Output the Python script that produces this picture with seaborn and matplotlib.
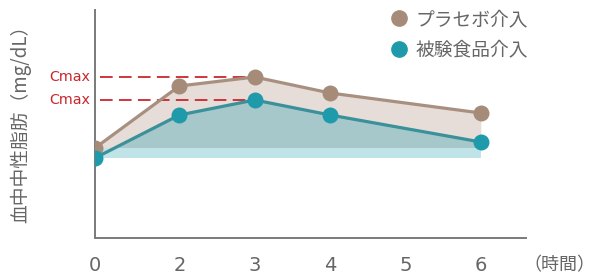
import matplotlib
matplotlib.use("Agg")
import matplotlib.pyplot as plt
from matplotlib.lines import Line2D
import seaborn as sns
import numpy as np
import pandas as pd

# ---- data ----
hours = [0, 2, 3, 4, 6]
placebo = [90, 152, 161, 145, 125]
test_food = [80, 123, 138, 123, 96]
tick_labels = [0, 2, 3, 4, 5, 6]
series_names = ["プラセボ介入", "被験食品介入"]
cmax_label = "Cmax"
y_label = "血中中性脂肪（mg/dL）"
x_unit = "（時間）"

# ---- style ----
C_PLA = "#a68b79"
C_PLA_LINE = "#a89080"
C_TEST = "#1f9aab"
C_TEST_LINE = "#3a9199"
C_BEIGE = "#e6ddd8"
C_OVER = "#a7c8cb"
C_BAND = "#bfe3e6"
C_RED = "#c9262c"
C_GREY = "#666666"
FIRST_GAP = 1.12  # the 0 -> 2 interval is drawn slightly wider than one unit

def pos(h):
    return h if h > 0 else 2 - FIRST_GAP

sns.set_theme(style="white")
plt.rcParams['font.family'] = ['Noto Sans CJK JP', 'DejaVu Sans']

fig = plt.figure(figsize=(5.96, 2.76), dpi=100)
ax = fig.add_axes([95/596, 38/276, (526-95)/596, (238-10)/276])

xp = np.array([pos(h) for h in hours])
pla = np.array(placebo, dtype=float)
tst = np.array(test_food, dtype=float)
df = pd.DataFrame({"x": np.concatenate([xp, xp]),
                   "y": np.concatenate([pla, tst]),
                   "group": [series_names[0]] * len(xp) + [series_names[1]] * len(xp)})

# fills
ax.fill_between(xp, pla, pla[0], color=C_BEIGE, lw=0, zorder=1)
ax.fill_between(xp, tst, pla[0], where=tst >= pla[0], interpolate=True,
                color=C_OVER, lw=0, zorder=2)
ax.fill_between(xp, tst[0], pla[0], color=C_BAND, lw=0, zorder=3)

# lines
sns.lineplot(data=df[df.group == series_names[0]], x="x", y="y", color=C_PLA_LINE,
             lw=2.3, marker="o", markersize=11.5, markerfacecolor=C_PLA,
             markeredgewidth=0, ax=ax, zorder=5, legend=False)
sns.lineplot(data=df[df.group == series_names[1]], x="x", y="y", color=C_TEST_LINE,
             lw=2.3, marker="o", markersize=11.5, markerfacecolor=C_TEST,
             markeredgewidth=0, ax=ax, zorder=6, legend=False)

ax.set_xlim(2 - FIRST_GAP, 6.6)
ax.set_ylim(0, 228)

# Cmax dashed lines
i_pla = int(np.argmax(pla))
i_tst = int(np.argmax(tst))
x0 = 2 - FIRST_GAP + 0.07
ax.plot([x0, xp[i_pla] - 0.05], [pla[i_pla]] * 2, color=C_RED, lw=1.3,
        dashes=(7, 3.5), zorder=4)
ax.plot([x0, xp[i_tst] - 0.05], [tst[i_tst]] * 2, color=C_RED, lw=1.3,
        dashes=(7, 3.5), zorder=4)
for v in (pla[i_pla], tst[i_tst]):
    ax.text(-0.012, v, cmax_label, transform=ax.get_yaxis_transform(),
            ha="right", va="center", color=C_RED, fontsize=10.3,
            family=['DejaVu Sans'])

# axes styling
for s in ("top", "right"):
    ax.spines[s].set_visible(False)
for s in ("left", "bottom"):
    ax.spines[s].set_color("#7a7a7a")
    ax.spines[s].set_linewidth(1.4)
ax.set_yticks([])
ax.set_xticks([pos(t) for t in tick_labels])
ax.set_xticklabels([str(t) for t in tick_labels], color=C_GREY, fontsize=14,
                   family=['DejaVu Sans'])
ax.tick_params(axis="x", length=0, pad=13)
ax.set_xlabel("")
ax.set_ylabel(y_label, color=C_GREY, fontsize=13.5)
ax.yaxis.set_label_coords(-0.148, 0.52)
fig.text(595.5/596, 1 - 265/276, x_unit, color=C_GREY, fontsize=13, va="center",
         ha="right")

handles = [Line2D([], [], ls="", marker="o", markersize=11, color=c)
           for c in (C_PLA, C_TEST)]
leg = fig.legend(handles, series_names, loc="upper left",
                 bbox_to_anchor=(371/596, 1 + 8/276), frameon=False,
                 fontsize=13.5, handletextpad=0.3, labelspacing=0.5,
                 handlelength=1.2)
for t in leg.get_texts():
    t.set_color(C_GREY)

fig.savefig("out.png", dpi=100)
